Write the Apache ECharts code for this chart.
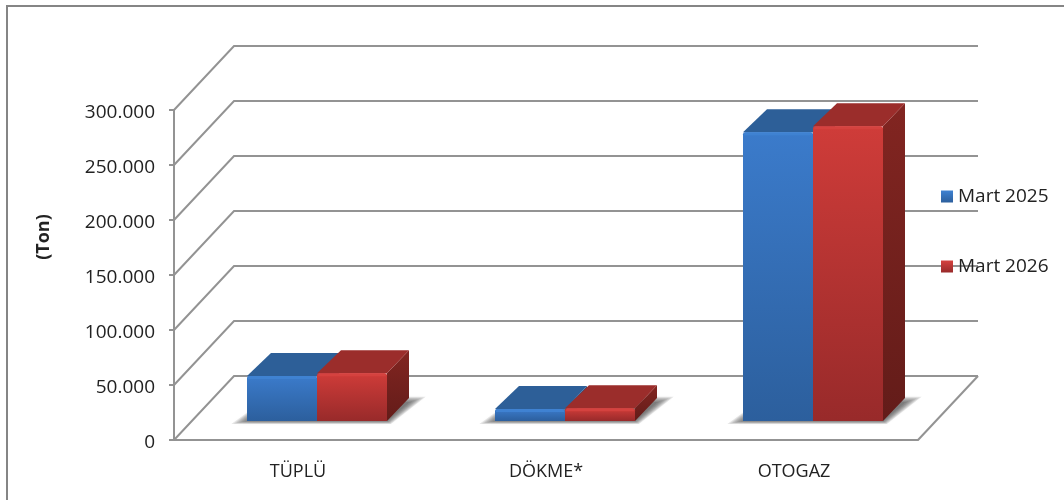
<!DOCTYPE html>
<html lang="tr">
<head>
<meta charset="utf-8" />
<title>Mart 2025 / Mart 2026</title>
<style>
	html, body { margin: 0; padding: 0; background: #fff; }
	#chart { width: 1064px; height: 500px; }
</style>
</head>
<body>
<div id="chart"></div>
<script src="https://cdn.jsdelivr.net/npm/echarts@6/dist/echarts.min.js"></script>
<script>
const categories = ['TÜPLÜ', 'DÖKME*', 'OTOGAZ'];
const seriesNames = ['Mart 2025', 'Mart 2026'];
const values2025 = [41000, 11000, 262500];
const values2026 = [43500, 11500, 268000];
const axisTicks = [0, 50000, 100000, 150000, 200000, 250000, 300000];

const FONT = '"Open Sans", sans-serif';
const LINE = '#939393';
// 3d look: how far the back wall sits from the front plane
const WALL_DX = 60, WALL_DY = 64;
// bars stand a bit inside the floor
const BASE_DX = 19, BASE_DY = 19;
const BAR_W = 70, BAR_DX = 22, BAR_DY = 23;

function vgrad(top, bottom) {
	return new echarts.graphic.LinearGradient(0, 0, 0, 1, [
		{ offset: 0, color: top },
		{ offset: 1, color: bottom }
	]);
}

const skins = [
	{ front: ['#3b7bcb', '#2c5f9d'], top: '#2d5f98', side: ['#27507f', '#1f4268'], bevel: '#3f82d2' },
	{ front: ['#cf3c39', '#982a2a'], top: '#9b2d2b', side: ['#822521', '#631c19'], bevel: '#d5423f' }
];

// floor and back wall lines, taken from the value axis
function renderWall(params, api) {
	const v = api.value(1);
	const g = params.coordSys;
	const left = g.x, right = g.x + g.width;
	const y = api.coord([0, v])[1];
	const style = { stroke: LINE, lineWidth: 2, fill: null };
	const children = [{
		type: 'polyline',
		shape: { points: [[left, y], [left + WALL_DX, y - WALL_DY], [right + WALL_DX, y - WALL_DY]] },
		style: style
	}];
	if (v === 0) {
		children.push({
			type: 'polyline',
			shape: { points: [[right, y], [right + WALL_DX, y - WALL_DY]] },
			style: style
		});
	}
	return { type: 'group', children: children };
}

// soft floor shadow, a few stacked see-through layers
function renderShadow(params, api) {
	const c = api.coord([api.value(0), 0]);
	const x0 = c[0] + BASE_DX - BAR_W, x1 = c[0] + BASE_DX + BAR_W;
	const y = c[1] - BASE_DY;
	const children = [];
	for (let i = 0; i < 7; i++) {
		const d = i * 2.6;
		children.push({
			type: 'polygon',
			shape: {
				points: [
					[x0 - d, y + d / 5],
					[x1 + d / 4, y + d / 5],
					[x1 + BAR_DX + 1 + d, y - BAR_DY + 4 - d / 3],
					[x0 + BAR_DX, y - BAR_DY + 4 - d / 3]
				]
			},
			style: { fill: 'rgba(60,60,60,0.13)', shadowBlur: 4, shadowColor: 'rgba(60,60,60,0.13)' }
		});
	}
	return { type: 'group', children: children };
}

function renderBar(params, api) {
	const s = params.seriesIndex - 2;
	const skin = skins[s];
	const c = api.coord([api.value(0), 0]);
	const top = api.coord([api.value(0), api.value(1)])[1] - BASE_DY;
	const y1 = c[1] - BASE_DY;
	const x0 = c[0] + BASE_DX - BAR_W + s * BAR_W;
	const x1 = x0 + BAR_W;
	return {
		type: 'group',
		children: [
			{
				type: 'polygon',
				shape: { points: [[x1, top], [x1 + BAR_DX, top - BAR_DY], [x1 + BAR_DX, y1 - BAR_DY], [x1, y1]] },
				style: { fill: vgrad(skin.side[0], skin.side[1]) }
			},
			{
				type: 'polygon',
				shape: { points: [[x0, top], [x0 + BAR_DX + 2, top - BAR_DY], [x1 + BAR_DX, top - BAR_DY], [x1, top]] },
				style: { fill: skin.top }
			},
			{
				type: 'rect',
				shape: { x: x0, y: top, width: BAR_W, height: y1 - top, r: [2, 2, 0, 0] },
				style: { fill: vgrad(skin.front[0], skin.front[1]) }
			},
			{
				type: 'rect',
				shape: { x: x0 + 1, y: top, width: BAR_W - 2, height: 3, r: [2, 2, 0, 0] },
				style: { fill: skin.bevel }
			}
		]
	};
}

function barSeries(i, values) {
	return {
		name: seriesNames[i],
		type: 'custom',
		renderItem: renderBar,
		clip: false,
		z: 4,
		itemStyle: { color: vgrad(skins[i].bevel, skins[i].front[1]) },
		encode: { x: 0, y: 1 },
		data: values.map((v, k) => [k, v])
	};
}

const chart = echarts.init(document.getElementById('chart'), null, { renderer: 'canvas' });
chart.setOption({
	animation: false,
	backgroundColor: '#fff',
	grid: { left: 174, right: 146, top: 110, bottom: 60 },
	legend: {
		orient: 'vertical',
		left: 936,
		top: 182,
		itemWidth: 12,
		itemHeight: 12,
		itemGap: 51,
		icon: 'rect',
		data: seriesNames,
		textStyle: { fontFamily: FONT, fontSize: 19, color: '#222' }
	},
	xAxis: {
		type: 'category',
		data: categories,
		axisLine: { lineStyle: { color: LINE, width: 2 } },
		axisTick: { show: false },
		axisLabel: { margin: 23, fontFamily: FONT, fontSize: 18, color: '#222' }
	},
	yAxis: {
		type: 'value',
		min: 0,
		max: 300000,
		interval: 50000,
		splitLine: { show: false },
		axisLine: { show: true, lineStyle: { color: LINE, width: 2 } },
		axisTick: { show: true, length: 5, lineStyle: { color: LINE, width: 2 } },
		axisLabel: {
			margin: 19,
			color: '#222',
			formatter: v => '{t|' + String(v).replace(/\B(?=(\d{3})+$)/g, '.') + '}',
			rich: {
				t: { fontFamily: FONT, fontSize: 19, color: '#222', padding: [6, 0, 0, 0] }
			}
		}
	},
	graphic: [
		{
			type: 'polyline',
			silent: true,
			shape: { points: [[7, 500], [7, 6], [1064, 6]] },
			style: { stroke: '#858585', lineWidth: 2, fill: null }
		},
		{
			type: 'text',
			silent: true,
			x: 44,
			y: 237,
			rotation: Math.PI / 2,
			style: { text: '(Ton)', font: 'bold 18px ' + FONT, fill: '#222', align: 'center', verticalAlign: 'middle' }
		}
	],
	series: [
		{
			type: 'custom',
			renderItem: renderWall,
			clip: false,
			silent: true,
			z: 1,
			encode: { x: 0, y: 1 },
			data: axisTicks.map(v => [0, v])
		},
		{
			type: 'custom',
			renderItem: renderShadow,
			clip: false,
			silent: true,
			z: 2,
			encode: { x: 0 },
			data: categories.map((c, k) => [k])
		},
		barSeries(0, values2025),
		barSeries(1, values2026)
	]
});

window.onresize = function () {
	chart.resize();
};
</script>
</body>
</html>
